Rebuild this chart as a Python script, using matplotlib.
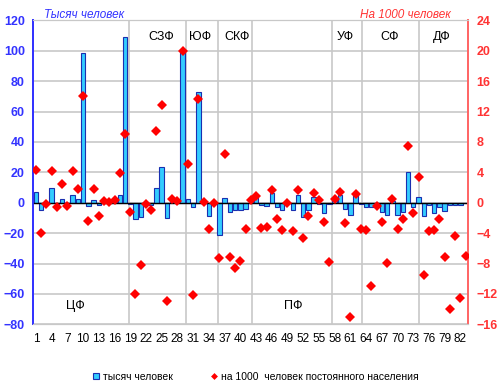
import numpy as np
import matplotlib.pyplot as plt
from matplotlib.lines import Line2D

plt.rcParams['font.family'] = ['Liberation Sans', 'DejaVu Sans']

# regions 1..83, grouped by federal district
thousand = [
    # ЦФ 1-18
    6.8, -4.8, -0.5, 9.9, -0.8, 2.4, -0.5, 4.8, 2.4, 98.8, -2.0, 1.9, -1.5, 0.3, 0.2, 0.6, 4.8, 108.7,
    # СЗФ 19-29
    -1.0, -10.7, -9.6, -0.3, -1.2, 9.4, 23.2, -10.0, 0.4, 0.2, 99.3,
    # ЮФ 30-35
    2.6, -3.0, 73.0, 0.2, -8.8, -0.4,
    # СКФ 36-42
    -21.3, 3.0, -6.3, -4.6, -4.8, -4.4, 1.0,
    # ПФ 43-56
    3.7, -1.8, -2.3, 6.1, -2.8, -4.6, -0.3, -4.8, 5.0, -9.6, -5.0, 4.0, -1.0, -6.6,
    # УФ 57-62
    -1.0, 1.5, 5.0, -4.4, -8.1, 5.0,
    # СФ 63-74
    -0.8, -3.0, -3.0, -0.4, -6.0, -8.0, 1.0, -8.1, -6.0, 20.4, -2.6, 3.5,
    # ДФ 75-83
    -8.8, -1.2, -7.0, -3.0, -5.5, -1.8, -1.8, -1.6, -0.5,
]
per1000 = [
    4.3, -4.0, -0.2, 4.2, -0.5, 2.5, -0.4, 4.2, 1.8, 14.0, -2.4, 1.75, -1.75, 0.2, 0.05, 0.35, 3.9, 9.1,
    -1.2, -12.0, -8.2, -0.2, -1.0, 9.5, 12.9, -12.9, 0.5, 0.25, 19.9,
    5.1, -12.1, 13.6, 0.1, -3.4, 0.0,
    -7.3, 6.4, -7.2, -8.6, -7.7, -3.5, 0.4,
    0.9, -3.3, -3.2, 1.7, -2.2, -3.6, 0.0, -3.7, 1.7, -4.6, -1.75, 1.3, 0.3, -2.6,
    -7.8, 0.5, 1.35, -2.7, -15.0, 1.2,
    -3.5, -3.6, -11.0, -0.4, -2.6, -7.9, 0.5, -3.5, -2.2, 7.5, -1.3, 3.4,
    -9.5, -3.7, -3.6, -2.1, -7.1, -14.0, -4.4, -12.5, -7.0,
]
region_no = list(range(1, len(thousand) + 1))

districts = ['ЦФ', 'СЗФ', 'ЮФ', 'СКФ', 'ПФ', 'УФ', 'СФ', 'ДФ']
# separator lines as drawn in the original (in category units from the left edge)
separators = [18.2, 29.2, 35.3, 41.7, 57.0, 62.8, 73.5]
# label anchor (category units) and whether it sits at the top or the bottom
label_x = [8.0, 24.5, 31.9, 38.8, 49.6, 59.5, 68.0, 78.0]
label_top = [False, True, True, True, False, True, True, True]

blue = '#3333ff'
red = '#ff3333'

fig = plt.figure(figsize=(5.0, 3.87), dpi=100)
ax = fig.add_axes([0.0666, 0.162, 0.870, 0.7855])
ax2 = ax.twinx()

x = np.arange(len(thousand))
ax.set_axisbelow(True)
ax.yaxis.grid(True, color='#c8c8c8', linewidth=1.2)
for s in separators:
    ax.axvline(s - 0.5, color='#c8c8c8', linewidth=1.2, zorder=0.5)
ax.bar(x, thousand, width=0.85, color='#33ccff', edgecolor='#1a2fb0',
       linewidth=0.8, zorder=2)
ax.axhline(0, color='black', linewidth=1.0, zorder=3)

ax2.plot(x, per1000, linestyle='none', marker='D', markersize=5.6,
         color='#ff0000', markeredgewidth=0, zorder=4)

ax.set_xlim(-0.5, len(thousand) - 0.5)
ax.set_ylim(-80, 120)
ax.set_yticks(np.arange(-80, 121, 20))
ax2.set_ylim(-16, 24)
ax2.set_yticks(np.arange(-16, 25, 4))
ax.set_xticks(x[::3])
ax.set_xticklabels([str(n) for n in region_no[::3]])

ax.tick_params(axis='x', length=0, labelsize=8.5, pad=6)
ax.tick_params(axis='y', length=0, labelsize=9, labelcolor=blue, pad=6)
ax2.tick_params(axis='y', length=0, labelsize=9, labelcolor=red, pad=6)
for lab in ax.get_yticklabels() + ax2.get_yticklabels():
    lab.set_fontweight('bold')

for a in (ax, ax2):
    a.spines['top'].set_color('#c8c8c8')
    a.spines['bottom'].set_color('#c8c8c8')
    a.spines['left'].set_color('#3333ff')
    a.spines['right'].set_color('#ff6666')
    a.spines['left'].set_linewidth(1.3)
    a.spines['right'].set_linewidth(1.3)

for name, lx, top in zip(districts, label_x, label_top):
    ax.text(lx - 0.5, 109 if top else -68, name, ha='center', va='center',
            fontsize=9, color='black', zorder=5)

fig.text(0.088, 0.962, 'Тысяч человек', color='#3333ff', fontsize=8.5,
         style='italic', ha='left', va='center')
fig.text(0.902, 0.962, 'На 1000 человек', color='#ff3333', fontsize=8.5,
         style='italic', ha='right', va='center')

handles = [
    Line2D([], [], linestyle='none', marker='s', markersize=5,
           markerfacecolor='#33ccff', markeredgecolor='#1a2fb0', markeredgewidth=0.8),
    Line2D([], [], linestyle='none', marker='D', markersize=3.5,
           color='#ff0000', markeredgewidth=0),
]
fig.legend(handles, ['тысяч человек', 'на 1000  человек постоянного населения'],
           loc='center', bbox_to_anchor=(0.51, 0.027), ncol=2, frameon=False,
           fontsize=7.5, handlelength=0.8, handletextpad=0.3, columnspacing=3.5)

fig.savefig('out.png', dpi=100)
